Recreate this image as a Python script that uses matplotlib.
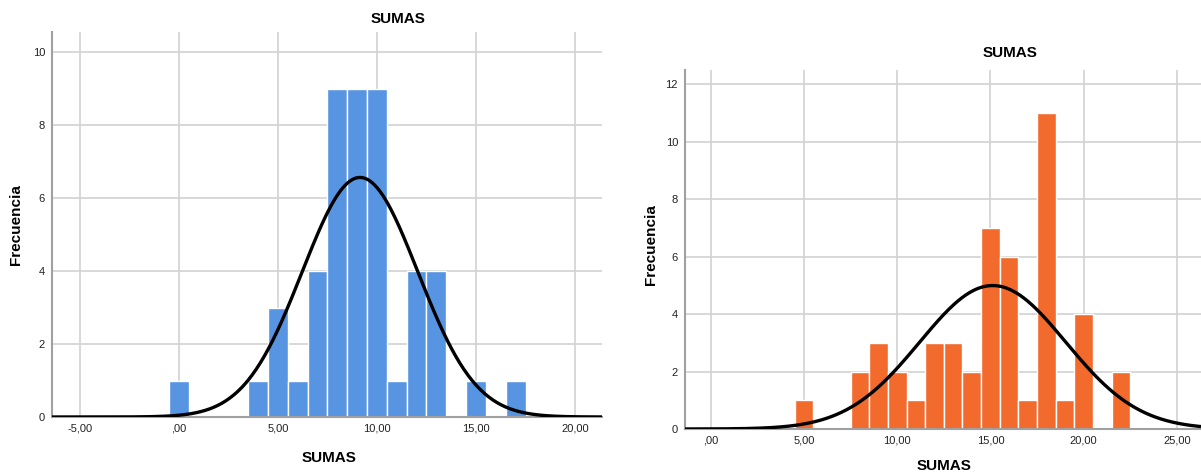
import numpy as np
import matplotlib
matplotlib.use("Agg")
import matplotlib.pyplot as plt
from matplotlib.ticker import FuncFormatter

plt.rcParams['font.family'] = ['Liberation Sans', 'DejaVu Sans']

# histogram bins (centred on integer scores) and their frequencies
left_centres = [0, 4, 5, 6, 7, 8, 9, 10, 11, 12, 13, 15, 17]
left_counts = [1, 1, 3, 1, 4, 9, 9, 9, 1, 4, 4, 1, 1]

right_centres = [5, 8, 9, 10, 11, 12, 13, 14, 15, 16, 17, 18, 19, 20, 22]
right_counts = [1, 2, 3, 2, 1, 3, 3, 2, 7, 6, 1, 11, 1, 4, 2]

left_xticks = [-5, 0, 5, 10, 15, 20]
right_xticks = [0, 5, 10, 15, 20, 25]

W, H = 1201, 473


def spss_fmt(v, pos=None):
    s = f"{v:.2f}".replace('.', ',')
    if s.startswith('0,'):
        s = s[1:]
    return s


def draw_hist(ax, centres, counts, color, xlim, ylim, xticks, yticks):
    centres = np.array(centres, dtype=float)
    counts = np.array(counts, dtype=float)
    ax.bar(centres, counts, width=1.0, color=color, edgecolor='white',
           linewidth=1.0, zorder=2)

    # fitted normal curve scaled to the histogram
    n = counts.sum()
    mean = (centres * counts).sum() / n
    sd = np.sqrt(((centres - mean) ** 2 * counts).sum() / (n - 1))
    xs = np.linspace(xlim[0], xlim[1], 400)
    ys = n * np.exp(-0.5 * ((xs - mean) / sd) ** 2) / (sd * np.sqrt(2 * np.pi))
    ax.plot(xs, ys, color='black', linewidth=2.4, zorder=3,
            solid_capstyle='butt')

    ax.set_xlim(*xlim)
    ax.set_ylim(*ylim)
    ax.set_xticks(xticks)
    ax.set_yticks(yticks)
    ax.xaxis.set_major_formatter(FuncFormatter(spss_fmt))
    ax.grid(True, color='#d2d2d2', linewidth=1.2, zorder=0)
    ax.set_axisbelow(True)
    ax.tick_params(length=0, labelsize=8, colors='#222222', pad=5)
    for side in ['top', 'right']:
        ax.spines[side].set_visible(False)
    ax.spines['left'].set_color('#a0a0a0')
    ax.spines['left'].set_linewidth(1.5)
    ax.spines['bottom'].set_color('#a0a0a0')
    ax.spines['bottom'].set_linewidth(1.5)


fig = plt.figure(figsize=(W / 100, H / 100), dpi=100)

ax1 = fig.add_axes([52 / W, (H - 417) / H, (602 - 52) / W, (417 - 32) / H])
draw_hist(ax1, left_centres, left_counts, '#5795e3',
          (-6.4, 21.36), (0, 10.55), left_xticks, range(0, 11, 2))

ax2 = fig.add_axes([685 / W, (H - 429) / H, (W - 685) / W, (429 - 70) / H])
draw_hist(ax2, right_centres, right_counts, '#f26a2c',
          (-1.39, 26.3), (0, 12.5), right_xticks, range(0, 13, 2))

# titles and axis labels
fig.text(398 / W, 1 - 19 / H, 'SUMAS', ha='center', va='center',
         fontsize=11, fontweight='bold')
fig.text(1010 / W, 1 - 53 / H, 'SUMAS', ha='center', va='center',
         fontsize=11, fontweight='bold')
fig.text(329 / W, 1 - 458 / H, 'SUMAS', ha='center', va='center',
         fontsize=11, fontweight='bold')
fig.text(944 / W, 1 - 466 / H, 'SUMAS', ha='center', va='center',
         fontsize=11, fontweight='bold')
fig.text(16 / W, 1 - 225 / H, 'Frecuencia', ha='center', va='center',
         rotation=90, fontsize=11, fontweight='bold')
fig.text(651 / W, 1 - 245 / H, 'Frecuencia', ha='center', va='center',
         rotation=90, fontsize=11, fontweight='bold')

fig.savefig('out.png', dpi=100)
